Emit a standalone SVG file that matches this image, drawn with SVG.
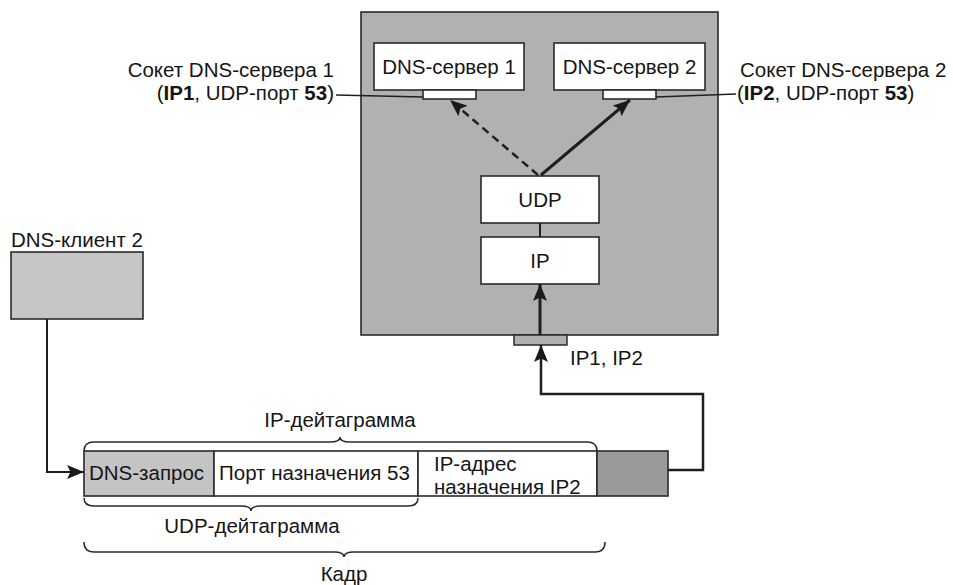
<svg xmlns="http://www.w3.org/2000/svg" width="953" height="585" viewBox="0 0 953 585">
<style>
text{font-family:"Liberation Sans",Arial,sans-serif;font-size:20.5px;fill:#151515}
.c{text-anchor:middle}
.e{text-anchor:end}
.b{font-weight:bold}
.box{fill:#ffffff;stroke:#2a2a2a;stroke-width:1.6}
.line{fill:none;stroke:#1f1f1f}
.brace{fill:none;stroke:#2a2a2a;stroke-width:1.5}
</style>
<defs>
<marker id="ah" markerUnits="userSpaceOnUse" markerWidth="18" markerHeight="14" refX="17" refY="7" orient="auto">
<path d="M0,0 L17,7 L0,14 L3.5,7 z" fill="#1a1a1a"/>
</marker>
</defs>

<g id="host">
<rect x="361" y="12" width="357" height="323" fill="#b1b1b1" stroke="#2a2a2a" stroke-width="1.6"/>
</g>
<g id="dns-server-1">
<rect class="box" x="374" y="43" width="150" height="47"/>
<text class="c" x="449" y="73.5">DNS-сервер 1</text>
<rect class="box" x="423" y="90" width="53" height="9"/>
</g>
<g id="dns-server-2">
<rect class="box" x="554" y="43" width="151" height="47"/>
<text class="c" x="629.5" y="73.5">DNS-сервер 2</text>
<rect class="box" x="603" y="90" width="53" height="9"/>
</g>
<g id="udp">
<rect class="box" x="481" y="176" width="118" height="47"/>
<text class="c" x="540" y="207">UDP</text>
</g>
<g id="ip">
<rect class="box" x="481" y="237" width="118" height="47"/>
<text class="c" x="540" y="268">IP</text>
</g>
<g id="interface">
<rect x="514" y="335" width="53" height="10" fill="#b0b0b0" stroke="#2a2a2a" stroke-width="1.5"/>
<text x="570" y="365">IP1, IP2</text>
</g>
<g id="socket-label-1">
<text class="e" x="334" y="77">Сокет DNS-сервера 1</text>
<text class="e" x="334" y="100">(<tspan class="b">IP1</tspan>, UDP-порт <tspan class="b">53</tspan>)</text>
</g>
<g id="socket-label-2">
<text x="740" y="77">Сокет DNS-сервера 2</text>
<text x="737" y="100">(<tspan class="b">IP2</tspan>, UDP-порт <tspan class="b">53</tspan>)</text>
</g>
<g id="dns-client-2">
<text x="11" y="247">DNS-клиент 2</text>
<rect x="11" y="252" width="132" height="67" fill="#c6c6c6" stroke="#2a2a2a" stroke-width="1.6"/>
</g>
<g id="frame">
<rect x="84" y="451" width="130" height="45" fill="#c4c4c4" stroke="#2a2a2a" stroke-width="1.6"/>
<text x="89" y="480">DNS-запрос</text>
<rect class="box" x="214" y="451" width="204" height="45"/>
<text x="219" y="480">Порт назначения 53</text>
<rect class="box" x="418" y="451" width="179" height="45"/>
<text x="434" y="471">IP-адрес</text>
<text x="434" y="494">назначения IP2</text>
<rect x="597" y="451" width="71" height="45" fill="#9a9a9a" stroke="#2a2a2a" stroke-width="1.6"/>
</g>
<g id="braces">
<path class="brace" d="M84,451 Q84,442 94,442 L330,442 Q340,442 340,437 Q340,442 350,442 L587,442 Q597,442 597,451"/>
<text class="c" x="340" y="427">IP-дейтаграмма</text>
<path class="brace" d="M84,498 Q84,506 94,506 L241,506 Q251,506 251,511 Q251,506 261,506 L408,506 Q418,506 418,498"/>
<text class="c" x="252" y="533">UDP-дейтаграмма</text>
<path class="brace" d="M84,542 Q84,552 94,552 L334,552 Q344,552 344,557 Q344,552 354,552 L595,552 Q605,552 605,542"/>
<text class="c" x="344" y="581">Кадр</text>
</g>
<g id="connectors">
<line class="line" x1="336" y1="95" x2="423" y2="97" stroke-width="1.5"/>
<line class="line" x1="656" y1="97" x2="736" y2="94" stroke-width="1.5"/>
<line class="line" x1="538" y1="175" x2="450" y2="100" stroke-width="2.5" stroke-dasharray="8,5" stroke="#333" marker-end="url(#ah)"/>
<line class="line" x1="541" y1="175" x2="630" y2="100" stroke-width="3" marker-end="url(#ah)"/>
<line class="line" x1="540" y1="223" x2="540" y2="237" stroke-width="2"/>
<line class="line" x1="540" y1="335" x2="540" y2="284" stroke-width="3" marker-end="url(#ah)"/>
<polyline class="line" points="668,470 703,470 703,394 541,394 541,345" stroke-width="2.5" marker-end="url(#ah)"/>
<polyline class="line" points="47,319 47,472 84,472" stroke-width="2" marker-end="url(#ah)"/>
</g>
</svg>
